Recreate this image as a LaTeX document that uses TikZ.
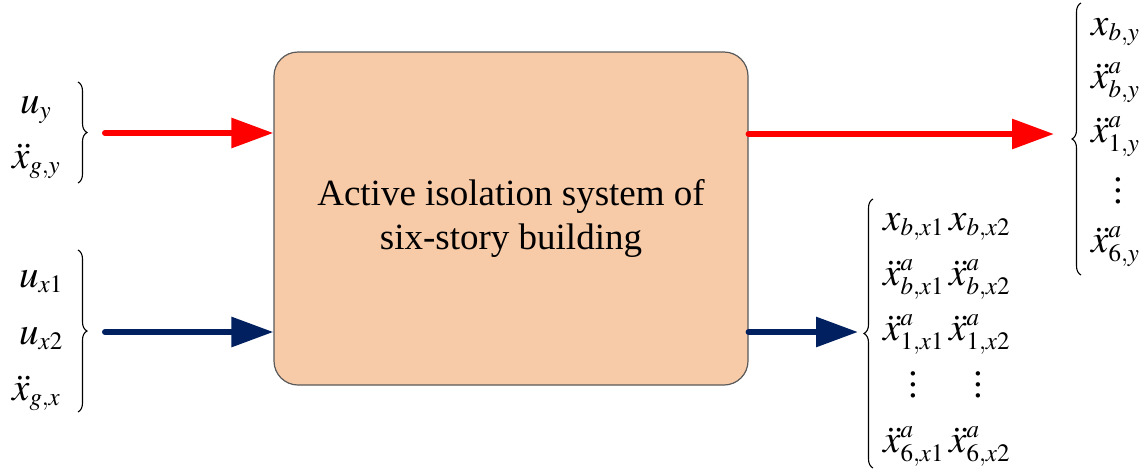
\documentclass[tikz,border=0pt]{standalone}
\usepackage{mathptmx}
\usepackage{fontspec}
\setmainfont{Liberation Serif}
\usetikzlibrary{arrows.meta,decorations.pathreplacing}
\DeclareMathSizes{39}{39}{25}{19}
\definecolor{boxfill}{HTML}{F8CBA8}
\definecolor{boxline}{HTML}{595959}
\definecolor{sigred}{HTML}{FF0000}
\definecolor{signavy}{HTML}{002060}
\begin{document}
\begin{tikzpicture}[x=1pt,y=-1pt,
  ent/.style={anchor=base west,inner sep=0pt,font=\fontsize{39}{46}\selectfont},
  dotsnode/.style={inner sep=0pt,align=center,font=\fontsize{37}{11}\selectfont},
  curly/.style={decorate,decoration={brace,amplitude=9pt},line width=1.1pt},
  sig/.style={line width=6pt,line cap=round,-{Triangle[length=42pt,width=29pt]}},
  sysbox/.style={draw=boxline,line width=1.2pt,fill=boxfill,rounded corners=24pt,
    minimum width=474pt,minimum height=333pt,align=center,
    font=\fontsize{37}{44}\selectfont}]
\useasboundingbox (0,0) rectangle (1146,472);

% plant block
\node[sysbox] (box) at (511,218.5) {Active isolation system of\\six-story building};

% y-direction inputs
\node[ent] (uy)  at (20,113) {$u_{y}$};
\node[ent] (agy) at (12,168) {$\ddot{x}_{g,y}$};
\draw[curly] (78,82) -- (78,183);
\coordinate (inY) at (105,133);

% x-direction inputs
\node[ent] (ux1) at (19,287) {$u_{x1}$};
\node[ent] (ux2) at (19,344) {$u_{x2}$};
\node[ent] (agx) at (12,400) {$\ddot{x}_{g,x}$};
\draw[curly] (78,250) -- (78,412);
\coordinate (inX) at (105,332);

\draw[sig,sigred]  (inY) -- (inY -| box.west);
\draw[sig,signavy] (inX) -- (inX -| box.west);

% y-direction outputs
\coordinate (outY) at (1054,134);
\draw[curly] (1081,275) -- (1081,3);
\node[ent] (xby)  at (1091,35)  {$x_{b,y}$};
\node[ent] (aby)  at (1091,88)  {$\ddot{x}^{a}_{b,y}$};
\node[ent] (a1y)  at (1091,142) {$\ddot{x}^{a}_{1,y}$};
\node[dotsnode] (dy) at (1118,191) {.\\.\\.};
\node[ent] (a6y)  at (1091,252) {$\ddot{x}^{a}_{6,y}$};

% x-direction outputs
\coordinate (outX) at (858,332);
\draw[curly] (873,468) -- (873,199);
\node[ent] (xbx1) at (883,230) {$x_{b,x1}$};
\node[ent] (xbx2) at (949,230) {$x_{b,x2}$};
\node[ent] (abx1) at (883,285) {$\ddot{x}^{a}_{b,x1}$};
\node[ent] (abx2) at (949,285) {$\ddot{x}^{a}_{b,x2}$};
\node[ent] (a1x1) at (883,340) {$\ddot{x}^{a}_{1,x1}$};
\node[ent] (a1x2) at (949,340) {$\ddot{x}^{a}_{1,x2}$};
\node[dotsnode] (dx1) at (913,385) {.\\.\\.};
\node[dotsnode] (dx2) at (978,385) {.\\.\\.};
\node[ent] (a6x1) at (883,452) {$\ddot{x}^{a}_{6,x1}$};
\node[ent] (a6x2) at (949,452) {$\ddot{x}^{a}_{6,x2}$};

\draw[sig,sigred]  (box.east |- outY) -- (outY);
\draw[sig,signavy] (box.east |- outX) -- (outX);
\end{tikzpicture}
\end{document}
